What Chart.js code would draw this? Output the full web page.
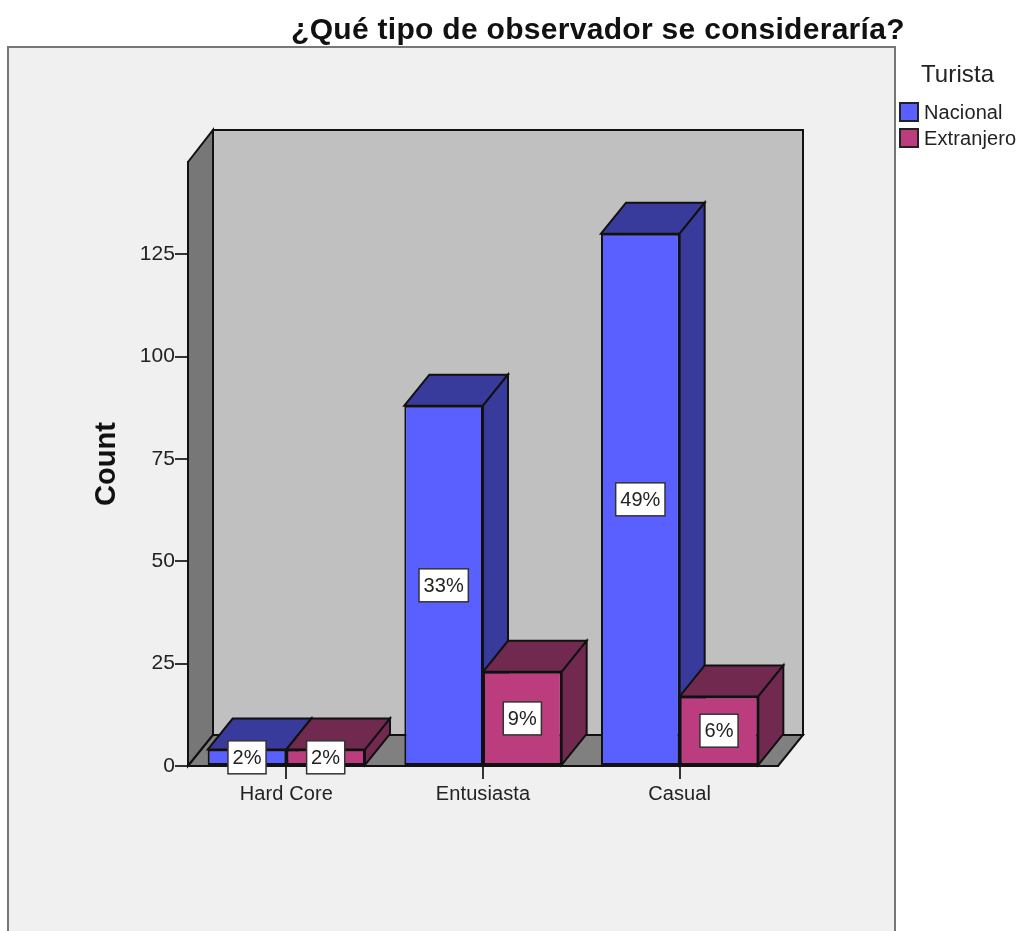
<!DOCTYPE html>
<html lang="es">
<head>
<meta charset="utf-8">
<style>html,body{margin:0;padding:0;background:#fff}canvas{display:block}</style>
<script src="https://cdn.jsdelivr.net/npm/chart.js@4"></script>
</head>
<body>
<canvas id="c" width="1021" height="931"></canvas>
<script>
const chartTitle = '¿Qué tipo de observador se consideraría?';
const yAxisTitle = 'Count';
const legendTitle = 'Turista';
const categories = ['Hard Core', 'Entusiasta', 'Casual'];
const nacional = [4, 88, 130];
const extranjero = [4, 23, 17];
const nacionalLabels = ['2%', '33%', '49%'];
const extranjeroLabels = ['2%', '9%', '6%'];
const seriesNames = ['Nacional', 'Extranjero'];

const FONT = '"Liberation Sans", Arial, sans-serif';
const DX = 25, DY = 31;
const INK = '#111';
const FRONT = ['#5a60ff', '#bb3d7d'];
const SHADE = ['#383b9b', '#72294f'];
const TRACKING = '0.1px';

function poly(ctx, pts, fill) {
  ctx.beginPath();
  pts.forEach((p, i) => i ? ctx.lineTo(p[0], p[1]) : ctx.moveTo(p[0], p[1]));
  ctx.closePath();
  ctx.fillStyle = fill;
  ctx.fill();
  ctx.lineWidth = 2;
  ctx.lineJoin = 'miter';
  ctx.strokeStyle = INK;
  ctx.stroke();
}

const scene = {
  id: 'scene',
  beforeDraw(chart) {
    const { ctx, chartArea: a } = chart;
    ctx.save();
    ctx.fillStyle = '#fff';
    ctx.fillRect(0, 0, chart.width, chart.height);
    ctx.fillStyle = '#f0f0f0';
    ctx.strokeStyle = '#777';
    ctx.lineWidth = 2;
    ctx.fillRect(8, 47, 887, 890);
    ctx.strokeRect(8, 47, 887, 890);
    // back wall, side wall, floor of the 3D box
    poly(ctx, [[a.left + DX, a.top - DY - 1], [a.right + DX, a.top - DY - 1], [a.right + DX, a.bottom - DY], [a.left + DX, a.bottom - DY]], '#c0c0c0');
    poly(ctx, [[a.left, a.top], [a.left + DX, a.top - DY - 1], [a.left + DX, a.bottom - DY], [a.left, a.bottom]], '#777777');
    poly(ctx, [[a.left, a.bottom], [a.left + DX, a.bottom - DY], [a.right + DX, a.bottom - DY], [a.right, a.bottom]], '#808080');
    ctx.restore();
    ctx.letterSpacing = TRACKING;
  },
  // Chart.js paints the first dataset last; the boxes need left-to-right painting
  beforeDatasetDraw() { return false; },
  afterDatasetsDraw(chart) {
    const { ctx } = chart;
    [0, 1].forEach(i => {
      const meta = chart.getDatasetMeta(i);
      meta.controller.draw();
      ctx.save();
      meta.data.forEach(bar => {
        const p = bar.getProps(['x', 'y', 'base', 'width'], true);
        const l = p.x - p.width / 2, r = p.x + p.width / 2;
        poly(ctx, [[l, p.y], [l + DX, p.y - DY], [r + DX, p.y - DY], [r, p.y]], SHADE[i]);
        poly(ctx, [[r, p.y], [r + DX, p.y - DY], [r + DX, p.base - DY], [r, p.base]], SHADE[i]);
      });
      ctx.restore();
    });
    ctx.save();
    ctx.font = '20px ' + FONT;
    ctx.textAlign = 'center';
    ctx.textBaseline = 'middle';
    [nacionalLabels, extranjeroLabels].forEach((labels, i) => {
      chart.getDatasetMeta(i).data.forEach((bar, j) => {
        const p = bar.getProps(['x', 'y', 'base'], true);
        const cy = (p.y + p.base) / 2;
        const w = ctx.measureText(labels[j]).width + 9, h = 33;
        ctx.fillStyle = '#fff';
        ctx.fillRect(p.x - w / 2, cy - h / 2, w, h);
        ctx.lineWidth = 1.5;
        ctx.strokeStyle = '#333';
        ctx.strokeRect(p.x - w / 2, cy - h / 2, w, h);
        ctx.fillStyle = '#222';
        ctx.fillText(labels[j], p.x, cy + 1);
      });
    });
    // title
    ctx.fillStyle = '#111';
    ctx.textAlign = 'left';
    ctx.letterSpacing = '0.3px';
    ctx.font = 'bold 30px ' + FONT;
    ctx.fillText(chartTitle, 291, 31);
    // legend
    ctx.letterSpacing = TRACKING;
    ctx.fillStyle = '#222';
    ctx.font = '24px ' + FONT;
    ctx.fillText(legendTitle, 921, 75);
    ctx.font = '20px ' + FONT;
    seriesNames.forEach((name, i) => {
      const y = 103 + i * 26;
      ctx.fillStyle = FRONT[i];
      ctx.fillRect(900, y, 18, 18);
      ctx.lineWidth = 2;
      ctx.strokeStyle = '#222';
      ctx.strokeRect(900, y, 18, 18);
      ctx.fillStyle = '#222';
      ctx.fillText(name, 924, y + 10);
    });
    ctx.restore();
  }
};

const datasetStyle = i => ({
  backgroundColor: FRONT[i],
  borderColor: INK,
  borderWidth: 2,
  borderSkipped: false,
  categoryPercentage: 0.8,
  barPercentage: 1
});

new Chart(document.getElementById('c'), {
  type: 'bar',
  data: {
    labels: categories,
    datasets: [
      { label: seriesNames[0], data: nacional, ...datasetStyle(0) },
      { label: seriesNames[1], data: extranjero, ...datasetStyle(1) }
    ]
  },
  plugins: [scene],
  options: {
    responsive: false,
    animation: false,
    layout: { padding: { left: 88, right: 243, top: 162, bottom: 105 } },
    plugins: { legend: { display: false }, title: { display: false }, tooltip: { enabled: false } },
    scales: {
      x: {
        afterFit(s) { s.height = 60; },
        grid: { offset: false, drawOnChartArea: false, color: '#333', lineWidth: 2, tickLength: 13 },
        border: { color: INK, width: 2 },
        ticks: { color: '#222', font: { family: FONT, size: 20 }, padding: 3, maxRotation: 0 }
      },
      y: {
        min: 0,
        max: 147.5,
        afterFit(s) { s.width = 100; },
        grid: { drawOnChartArea: false, color: '#333', lineWidth: 2, tickLength: 13 },
        border: { color: INK, width: 2 },
        ticks: { stepSize: 25, includeBounds: false, color: '#222', font: { family: FONT, size: 21 }, padding: 0 },
        title: { display: true, text: yAxisTitle, color: '#111', font: { family: FONT, size: 29, weight: 'bold' }, padding: { top: 2, bottom: 0 } }
      }
    }
  }
});
</script>
</body>
</html>
